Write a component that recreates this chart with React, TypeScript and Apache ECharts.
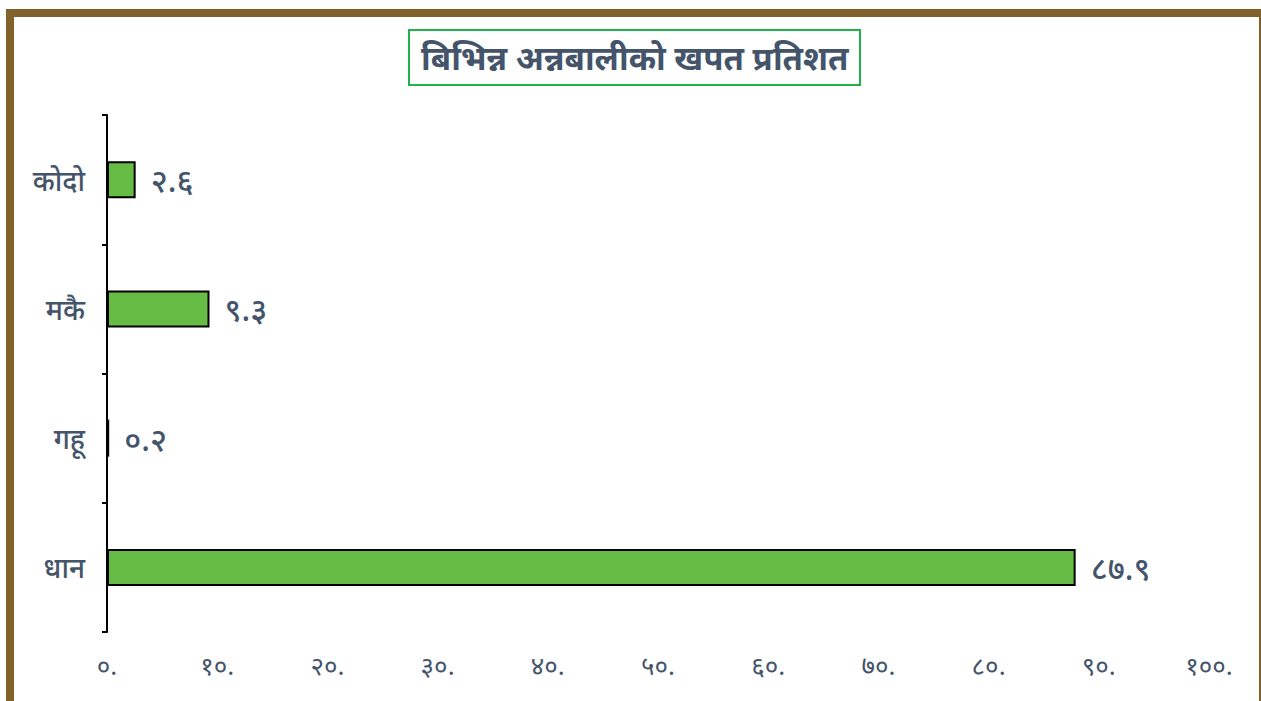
import React, { useEffect, useRef } from "react";
import * as echarts from "echarts";

const titleText = "बिभिन्न अन्नबालीको खपत प्रतिशत";
const categories = ["धान", "गहू", "मकै", "कोदो"];
const values = [87.9, 0.2, 9.3, 2.6];
const axisMin = 0;
const axisMax = 100;
const axisInterval = 10;

const devDigits = "०१२३४५६७८९";
const toDev = (s: string) => s.replace(/\d/g, (d) => devDigits[+d]);

const FONT = "'Noto Sans', 'Noto Sans Devanagari', sans-serif";
const TEXT = "#44546A";

export default function App() {
  const ref = useRef<HTMLDivElement>(null);
  useEffect(() => {
    if (!ref.current) return;
    const chart = echarts.init(ref.current, null, { renderer: "svg" });
    chart.setOption({
      animation: false,
      backgroundColor: "#ffffff",
      textStyle: { fontFamily: FONT },
      title: {
        text: titleText,
        left: 409,
        top: 30,
        padding: [11, 12, 11, 12],
        borderColor: "#22B04B",
        borderWidth: 2,
        textStyle: { color: TEXT, fontSize: 33, fontWeight: "bold", fontFamily: FONT },
      },
      graphic: [
        { type: "rect", shape: { x: 6, y: 9, width: 1255, height: 8 }, style: { fill: "#80622A" } },
        { type: "rect", shape: { x: 6, y: 9, width: 8, height: 692 }, style: { fill: "#80622A" } },
        { type: "rect", shape: { x: 1259, y: 9, width: 2, height: 692 }, style: { fill: "#80622A" } },
      ],
      grid: { left: 107, right: 52, top: 115, bottom: 69, containLabel: false },
      xAxis: {
        type: "value",
        min: axisMin,
        max: axisMax,
        interval: axisInterval,
        axisLine: { show: false },
        axisTick: { show: false },
        splitLine: { show: false },
        axisLabel: {
          color: TEXT,
          fontSize: 26,
          margin: 20,
          fontFamily: FONT,
          formatter: (v: number) => toDev(String(v)) + ".",
        },
      },
      yAxis: {
        type: "category",
        data: categories,
        axisLine: { show: true, lineStyle: { color: "#000", width: 2 } },
        axisTick: { show: true, length: 5, lineStyle: { color: "#000", width: 2 } },
        axisLabel: { color: TEXT, fontSize: 28, fontWeight: 500, margin: 22, fontFamily: FONT },
      },
      series: [
        {
          type: "bar",
          data: values,
          barWidth: 37,
          itemStyle: { color: "#67BC45", borderColor: "#000", borderWidth: 2 },
          label: {
            show: true,
            position: "right",
            distance: 15,
            color: TEXT,
            fontSize: 32,
            fontWeight: 500,
            fontFamily: FONT,
            formatter: (p: any) => toDev(Number(p.value).toFixed(1)),
          },
        },
      ],
    });
    return () => chart.dispose();
  }, []);
  return (
    <div
      ref={ref}
      style={{ position: "fixed", left: 0, top: 0, width: 1261, height: 701 }}
    />
  );
}
